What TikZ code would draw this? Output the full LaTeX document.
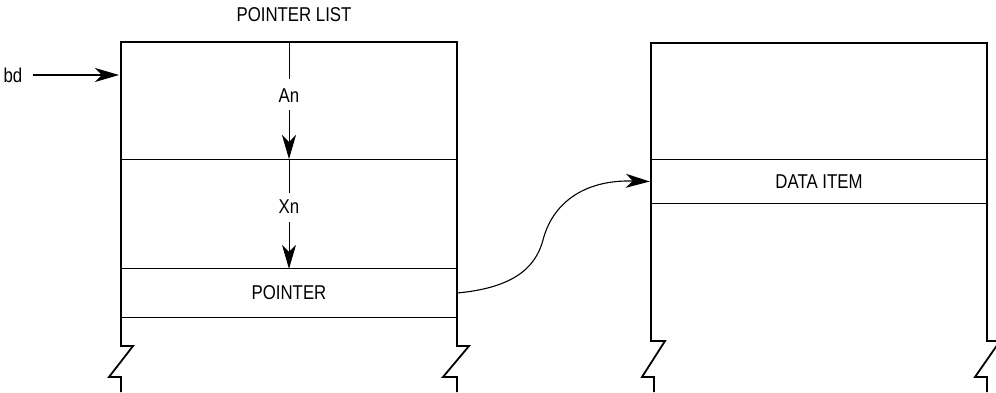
\documentclass[tikz,border=0pt]{standalone}
\usepackage{fontspec}
\setmainfont{Liberation Sans}[FakeStretch=0.84]
\usetikzlibrary{arrows.meta}
\begin{document}
\begin{tikzpicture}[x=1pt,y=-1pt,>={Stealth[length=24pt,width=14pt,inset=7pt]},
  font=\fontsize{20}{23}\selectfont,
  wall/.style={line width=1.8pt},
  rule/.style={line width=0.9pt},
  lnk/.style={line width=1.1pt},
  row/.style={minimum width=336pt,inner sep=0pt}]
\clip (0,0) rectangle (996,392);
% left box: pointer list
\draw[wall](121,392)--(121,377)--(109,377)--(133,346)--(121,346)--(121,42)
  --(457,42)--(457,346)--(469,346)--(443,377)--(457,377)--(457,392);
% right box
\draw[wall](654,392)--(654,377)--(642,377)--(665,341)--(651,341)--(651,43)
  --(987,43)--(987,341)--(1000,341)--(975,377)--(987,377)--(987,392);
\node(plist) at (294,14.5){POINTER LIST};
\node[row,minimum height=48pt](ptr) at (289,293){POINTER};
\node[row,minimum height=43pt](item) at (819,181.5){DATA ITEM};
\coordinate(rowtop) at (289,42);
\coordinate(rowmid) at (289,159);
\draw[rule](121,159)--(457,159);
\foreach \n in {ptr,item}
{
    \draw[rule](\n.north west)--(\n.north east);
    \draw[rule](\n.south west)--(\n.south east);
}
% offsets An and Xn
\node[inner sep=0pt](an) at (289,96){An};
\node[inner sep=0pt](xn) at (289,207){Xn};
\draw[rule](rowtop)--([yshift=10pt]an.north);
\draw[rule,->]([yshift=-7pt]an.south)--(rowmid);
\draw[rule](rowmid)--([yshift=7pt]xn.north);
\draw[rule,->]([yshift=-8pt]xn.south)--(ptr.north);
% base register
\node[inner sep=0pt](bd) at (13,75){bd};
\coordinate(entry) at (119,75);
\draw[lnk,->]([xshift=10pt]bd.east)--(entry);
\coordinate(bend) at (543,240);
\draw[lnk,->](ptr.east)..controls +(53,-5) and +(-8,30)..(bend)
  ..controls +(9,-35) and +(-68,-2)..([xshift=-1pt]item.west);
\end{tikzpicture}
\end{document}
